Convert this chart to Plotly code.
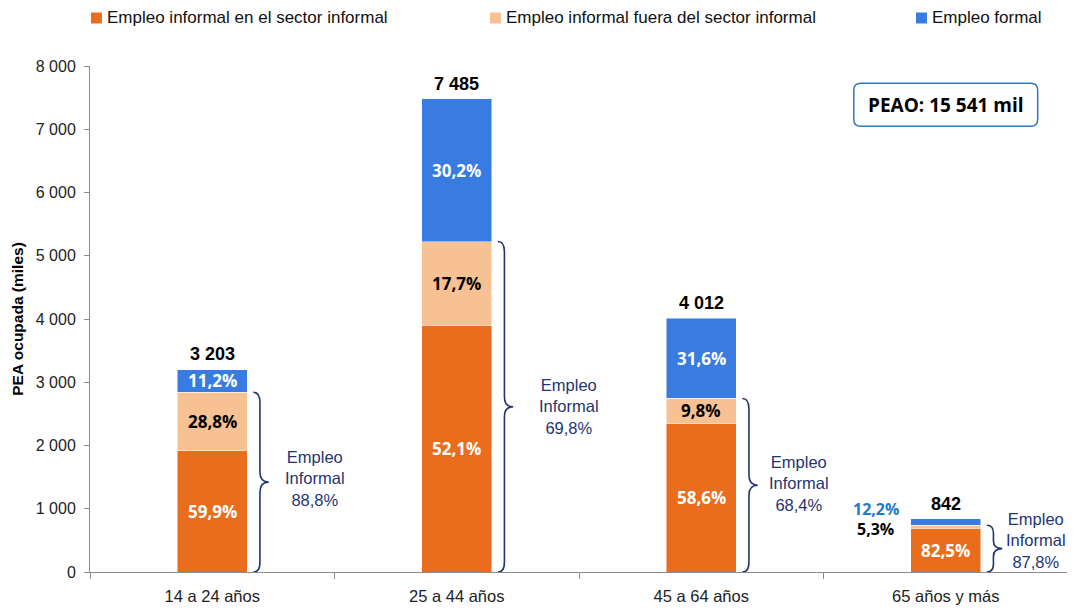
import plotly.graph_objects as go

categorias = ["14 a 24 años", "25 a 44 años", "45 a 64 años", "65 años y más"]
totales = [3203, 7485, 4012, 842]
pct_inf_sector = [59.9, 52.1, 58.6, 82.5]
pct_inf_fuera = [28.8, 17.7, 9.8, 5.3]
pct_formal = [11.2, 30.2, 31.6, 12.2]
pct_informal_total = [88.8, 69.8, 68.4, 87.8]
peao_total = "15 541"

series = [
    ("Empleo informal en el sector informal", pct_inf_sector, "#E96D1D", "white"),
    ("Empleo informal fuera del sector informal", pct_inf_fuera, "#F8C194", "black"),
    ("Empleo formal", pct_formal, "#387BE1", "white"),
]

NAVY = "#1F3470"
FONT = "Liberation Sans, Arial, sans-serif"
BOLD = "Open Sans, Noto Sans, sans-serif"
BAR_W = 0.286

def pct_txt(p):
    return f"{p:.1f}".replace(".", ",") + "%"

def miles(v):
    return f"{v:,}".replace(",", " ")

x = list(range(len(categorias)))
fig = go.Figure()
ann = []
shapes = []

base = [0] * len(x)
for k, (name, pcts, color, tcol) in enumerate(series):
    vals = [t * p / 100 for t, p in zip(totales, pcts)]
    fig.add_trace(go.Bar(
        x=x, y=vals, name=name, width=BAR_W, showlegend=False,
        marker=dict(color=color, line=dict(color="rgba(255,255,255,0.6)", width=0.8)),
        hoverinfo="skip",
    ))
    for i, v in enumerate(vals):
        if v > 250:
            ann.append(dict(x=x[i], y=base[i] + v / 2, text="<b>" + pct_txt(pcts[i]) + "</b>",
                            showarrow=False, font=dict(family=BOLD, size=17, color=tcol)))
        else:
            # small segment: label to the left of the bar
            shift = 10 if k == 2 else -10
            ann.append(dict(x=x[i] - BAR_W, y=totales[i], yshift=shift,
                            text="<b>" + pct_txt(pcts[i]) + "</b>", showarrow=False,
                            font=dict(family=BOLD, size=16,
                                      color="#1F78C8" if k == 2 else "black")))
        base[i] += v

# legend drawn as squares + text above the plot
leg_x = [0.0010, 0.4090, 0.8446]
for (name, _, color, _), lx in zip(series, leg_x):
    shapes.append(dict(type="rect", xref="paper", yref="paper", x0=lx, x1=lx + 0.0112,
                       y0=1.084, y1=1.1057, fillcolor=color, line=dict(width=0)))
    ann.append(dict(x=lx + 0.0143, y=1.0949, xref="paper", yref="paper", xanchor="left",
                    yanchor="middle", text=name, showarrow=False,
                    font=dict(family=FONT, size=17, color="#111")))

# totals above bars
for i, t in enumerate(totales):
    ann.append(dict(x=x[i], y=t, yanchor="bottom", yshift=3, text="<b>" + miles(t) + "</b>",
                    showarrow=False, font=dict(family=FONT, size=18, color="black")))

# braces for informal employment
label_dx = [0.42, 0.46, 0.40, 0.37]
label_dy = [4, 0, 2, 8]
for i in x:
    top = totales[i] * (pct_inf_sector[i] + pct_inf_fuera[i]) / 100
    mid = top / 2
    r = min(160, top / 6)
    xe = x[i] + BAR_W / 2
    xh, xs, xt = xe + 0.025, xe + 0.052, xe + 0.088
    path = (f"M{xh},{top} Q{xs},{top} {xs},{top - r} L{xs},{mid + r} "
            f"Q{xs},{mid} {xt},{mid} Q{xs},{mid} {xs},{mid - r} "
            f"L{xs},{r} Q{xs},0 {xh},0")
    shapes.append(dict(type="path", path=path, xref="x", yref="y",
                       line=dict(color=NAVY, width=1.6)))
    ann.append(dict(x=x[i] + label_dx[i], y=mid, yshift=label_dy[i], showarrow=False,
                    align="center",
                    text="Empleo<br>Informal<br>" + pct_txt(pct_informal_total[i]),
                    font=dict(family=FONT, size=16.5, color=NAVY)))

# PEAO box (rounded)
x0, x1, y0, y1 = 0.781, 0.969, 0.881, 0.966
rx, ry = 0.007, 0.014
shapes.append(dict(
    type="path", xref="paper", yref="paper",
    path=(f"M{x0 + rx},{y0} L{x1 - rx},{y0} Q{x1},{y0} {x1},{y0 + ry} L{x1},{y1 - ry} "
          f"Q{x1},{y1} {x1 - rx},{y1} L{x0 + rx},{y1} Q{x0},{y1} {x0},{y1 - ry} "
          f"L{x0},{y0 + ry} Q{x0},{y0} {x0 + rx},{y0} Z"),
    line=dict(color="#2E78C2", width=1.5), fillcolor="rgba(0,0,0,0)"))
ann.append(dict(x=(x0 + x1) / 2, y=(y0 + y1) / 2, xref="paper", yref="paper",
                xanchor="center", yanchor="middle",
                text="<b>PEAO: " + peao_total + " mil</b>", showarrow=False,
                font=dict(family=BOLD, size=19, color="black")))

# page body has an 8px margin, so the figure is a bit smaller than the window
fig.update_layout(
    barmode="stack",
    width=1067, height=602,
    margin=dict(l=82, r=7, t=58, b=38, autoexpand=False),
    plot_bgcolor="white", paper_bgcolor="white",
    separators=", ",
    showlegend=False,
    font=dict(family=FONT, size=14, color="#222"),
    annotations=ann, shapes=shapes,
    xaxis=dict(range=[-0.5, 3.5], tickvals=x, ticktext=categorias, ticks="",
               showline=True, linecolor="#8C8C8C", linewidth=1, showgrid=False,
               zeroline=False, tickfont=dict(size=16.5, color="#222"),
               ticklabelstandoff=9,
               minor=dict(tick0=0.5, dtick=1, ticks="outside", ticklen=6,
                          tickcolor="#8C8C8C", showgrid=False)),
    yaxis=dict(range=[0, 8000], dtick=1000, tickformat=",d", ticks="outside", ticklen=5,
               tickcolor="#8C8C8C", showline=True, linecolor="#8C8C8C", linewidth=1,
               showgrid=False, zeroline=False, tickfont=dict(size=16, color="#222"),
               ticklabelstandoff=5,
               title=dict(text="<b>PEA ocupada (miles)</b>", standoff=8,
                          font=dict(size=15.5, color="black"))),
)

fig.write_html("out.html")
